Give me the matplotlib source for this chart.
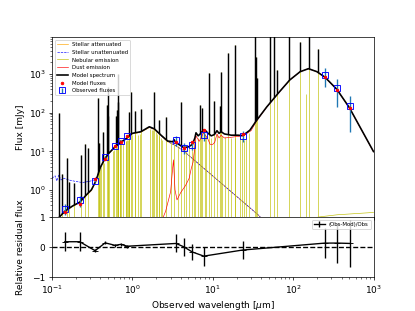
import numpy as np
import matplotlib
matplotlib.use('Agg')
import matplotlib.pyplot as plt
from matplotlib import gridspec
from matplotlib.patches import Polygon

# Model spectrum continuum (wavelength in micron, flux in mJy)
model_wl = [0.09, 0.116, 0.145, 0.18, 0.222, 0.27, 0.31, 0.345, 0.37, 0.40, 0.46, 0.52,
            0.61, 0.72, 0.86, 1.0, 1.28, 1.63, 1.88, 2.28, 2.75, 3.2, 3.3, 3.45, 4.36,
            5.0, 5.6, 6.0, 6.2, 6.6, 7.0, 7.7, 8.3, 8.6, 9.6, 10.5, 11.3, 12.0, 12.7,
            14.0, 17.0, 20.5, 23.7, 29.0, 35.0, 47.0, 52.0, 68.0, 91.0, 122.0, 155.0,
            197.0, 250.0, 350.0, 500.0, 1000.0]
model_flux = [0.08, 0.17, 0.28, 0.38, 0.48, 0.75, 1.0, 1.55, 2.3, 3.8, 6.6, 9.2,
              13.0, 17.0, 22.0, 29.0, 32.0, 43.0, 38.0, 26.0, 18.4, 17.5, 20.0, 17.0, 12.4,
              13.0, 15.0, 22.0, 30.0, 25.0, 28.0, 36.0, 33.0, 30.0, 25.0, 27.0, 34.0, 29.0, 32.0,
              28.0, 26.0, 26.0, 25.5, 35.0, 62.0, 140.0, 180.0, 350.0, 700.0, 1140.0, 1370.0,
              1150.0, 820.0, 400.0, 135.0, 9.8]

# Stellar components
att_wl = [0.09, 0.116, 0.145, 0.18, 0.222, 0.27, 0.31, 0.345, 0.37, 0.40, 0.46, 0.52,
          0.61, 0.72, 0.86, 1.0, 1.28, 1.63, 1.88, 2.28, 2.75, 3.45, 4.2, 36.7, 60.0]
att_flux = [0.08, 0.17, 0.27, 0.37, 0.46, 0.72, 0.95, 1.5, 2.2, 3.7, 6.4, 9.0,
            12.6, 16.5, 21.5, 28.0, 31.0, 41.0, 36.0, 25.0, 17.5, 14.0, 10.8, 0.226, 0.08]
unatt_wl = [0.1, 0.11, 0.115, 0.122, 0.13, 0.141, 0.163, 0.198, 0.239, 0.29, 0.335,
            0.37, 0.40, 0.46, 0.52, 0.61, 0.72, 0.86, 1.0, 1.28, 1.63, 1.88, 2.28, 2.75,
            3.45, 4.2, 36.7, 60.0]
unatt_flux = [2.0, 2.3, 1.7, 2.4, 1.8, 2.0, 1.8, 1.65, 1.55, 1.65, 1.8,
              2.3, 3.8, 6.6, 9.2, 13.0, 17.0, 22.0, 29.0, 32.0, 42.0, 37.0, 25.5, 18.0,
              14.0, 10.8, 0.226, 0.08]

# Dust emission
dust_wl = [2.3, 2.6, 3.0, 3.15, 3.25, 3.4, 3.6, 4.0, 4.6, 5.1, 5.4, 5.7, 6.0, 6.2,
           6.8, 7.7, 8.6, 9.3, 10.0, 10.6, 11.3, 12.0, 12.7, 14.0, 17.0, 20.0, 24.0,
           30.0, 35.0, 47.0, 52.0, 68.0, 91.0, 122.0, 155.0, 197.0, 250.0, 350.0, 500.0, 1000.0]
dust_flux = [0.15, 0.28, 0.9, 3.0, 6.0, 1.0, 0.55, 0.85, 1.3, 2.0, 3.5, 5.2, 13.0, 25.0,
             18.0, 30.0, 22.0, 15.0, 15.0, 17.0, 28.0, 22.0, 26.0, 22.0, 23.0, 24.0, 25.0,
             34.0, 60.0, 138.0, 178.0, 348.0, 698.0, 1138.0, 1368.0, 1148.0, 818.0, 398.0, 134.0, 9.7]

# Nebular emission lines (peak flux) and nebular continuum
neb_wl = [0.1216, 0.1335, 0.1549, 0.1640, 0.1909, 0.2326, 0.2580, 0.2800, 0.3727, 0.3869,
          0.3889, 0.3970, 0.4102, 0.4340, 0.4471, 0.4861, 0.4959, 0.5007, 0.5199, 0.5755,
          0.5876, 0.6300, 0.6548, 0.6563, 0.6678, 0.6716, 0.7065, 0.7136, 0.7325, 0.7751,
          0.8239, 0.8446, 0.8665, 0.8750, 0.9015, 0.9069, 0.9229, 0.9531, 1.005, 1.083,
          1.094, 1.188, 1.257, 1.282, 1.644, 1.737, 1.818, 1.875, 1.945, 2.058,
          2.122, 2.166, 2.260, 2.370, 2.626, 3.040, 3.297, 3.740, 4.051, 4.370,
          4.654, 5.128, 5.510, 5.908, 6.110, 6.630, 6.985, 7.210, 7.460, 8.030,
          8.300, 8.991, 9.660, 10.51, 11.31, 12.37, 12.81, 13.10, 14.30, 15.55,
          17.03, 18.71, 19.06, 21.83, 22.93, 24.32, 25.89, 28.22, 33.48, 34.81,
          36.01, 51.81, 57.32, 63.18, 88.36, 121.9, 145.5, 157.7, 205.2]
neb_peak = [98, 2.5, 6.5, 1.6, 1.5, 8, 15, 12, 240, 16,
            3, 3.5, 4.5, 32, 5, 160, 80, 450, 8, 10,
            11, 80, 120, 1000, 14, 190, 15, 20, 15, 15,
            18, 18, 20, 19, 22, 105, 24, 350, 27, 110,
            28, 27, 28, 121, 38, 36, 35, 350, 32, 28,
            25, 64, 22, 20, 78, 16, 15, 14, 190, 11,
            11, 12, 13, 18, 20, 22, 157, 25, 130, 28,
            25, 1040, 22, 200, 28, 150, 1140, 25, 24, 3500,
            22, 5600, 22, 22, 22, 20, 24, 30, 30000, 2700,
            770, 30000, 20000, 1250, 30000, 6800, 300, 30000, 4300]
neb_cont_wl = [100.0, 215.0, 352.0, 1000.0]
neb_cont_flux = [0.15, 0.2, 0.226, 0.26]

# Photometry
filt_wl = [0.145, 0.222, 0.345, 0.46, 0.61, 0.72, 0.87, 3.50, 4.37, 5.57, 7.76, 23.5, 246, 348, 505]
obs_flux = [0.32, 0.53, 1.71, 7.25, 14.0, 18.5, 25.3, 19.6, 12.2, 14.5, 26.4, 24.9, 935, 440, 151]
obs_err = [0.034, 0.057, 0.03, 0.12, 0.23, 0.3, 0.4, 1.96, 1.22, 1.35, 2.8, 2.5, 155, 100, 40]
mod_flux = [0.266, 0.44, 1.93, 6.3, 13.3, 17.0, 24.8, 17.4, 12.2, 17.0, 34.6, 27.6, 820, 385, 134]

filt_wl = np.array(filt_wl)
obs_flux = np.array(obs_flux)
obs_err = np.array(obs_err)
mod_flux = np.array(mod_flux)

fig = plt.figure(figsize=(6.4, 4.8))
gs = gridspec.GridSpec(2, 1, height_ratios=[3, 1], hspace=0)
ax1 = fig.add_subplot(gs[0])
ax2 = fig.add_subplot(gs[1], sharex=ax1)

thin = 0.7
l_att, = ax1.loglog(att_wl, att_flux, color='orange', linestyle='-', linewidth=thin,
                    label='Stellar attenuated ')
l_unatt, = ax1.loglog(unatt_wl, unatt_flux, color='b', linestyle='--', linewidth=thin,
                      label='Stellar unattenuated')
ax1.vlines(neb_wl, 0.01, neb_peak, color='y', linewidth=thin)
l_neb, = ax1.loglog(neb_cont_wl, neb_cont_flux, color='y', linewidth=thin,
                    label='Nebular emission')
l_dust, = ax1.loglog(dust_wl, dust_flux, color='r', linewidth=thin, label='Dust emission')
l_mod, = ax1.loglog(model_wl, model_flux, color='k', linewidth=1.8, label='Model spectrum')

# emission line spikes of the model spectrum: only the part above the continuum is shown
clip_xy = list(zip(model_wl, model_flux)) + [(model_wl[-1], 1e7), (model_wl[0], 1e7)]
clip_poly = Polygon(clip_xy, closed=True, transform=ax1.transData)
spikes = ax1.vlines(neb_wl, 0.01, neb_peak, color='k', linewidth=1.6)
spikes.set_clip_path(clip_poly)

sc = ax1.scatter(filt_wl, mod_flux, marker='o', color='r', s=8, zorder=3, label='Model fluxes')
eb = ax1.errorbar(filt_wl, obs_flux, yerr=obs_err * 3, ls='', marker='s',
                  markerfacecolor='None', markersize=6, markeredgecolor='b', capsize=0.,
                  label='Observed fluxes')

ax1.set_xlim(0.1, 1000)
ax1.set_ylim(0.2, 9000)
ax1.set_ylabel('Flux [mJy]')
ax1.tick_params(labelbottom=False)
ax1.legend([l_att, l_unatt, l_neb, l_dust, l_mod, sc, eb],
           ['Stellar attenuated ', 'Stellar unattenuated', 'Nebular emission',
            'Dust emission', 'Model spectrum', 'Model fluxes', 'Observed fluxes'],
           fontsize=6, loc='upper left')

res = (obs_flux - mod_flux) / obs_flux
res_err = obs_err * 3 / obs_flux
ax2.errorbar(filt_wl, res, yerr=res_err, marker='_', color='k', capsize=0.,
             label='(Obs-Mod)/Obs')
ax2.plot([0.1, 1000], [0., 0.], ls='--', color='k')
ax2.set_xscale('log')
ax2.set_xlim(0.1, 1000)
ax2.set_ylim(-1.0, 1.0)
ax2.set_yticks([-1, 0, 1])
ax2.set_xlabel(r'Observed wavelength [$\mu$m]')
ax2.set_ylabel('Relative residual flux')
ax2.legend(fontsize=6, loc='upper right')

fig.align_ylabels([ax1, ax2])
fig.savefig('out.png', dpi=415 / 6.4)
